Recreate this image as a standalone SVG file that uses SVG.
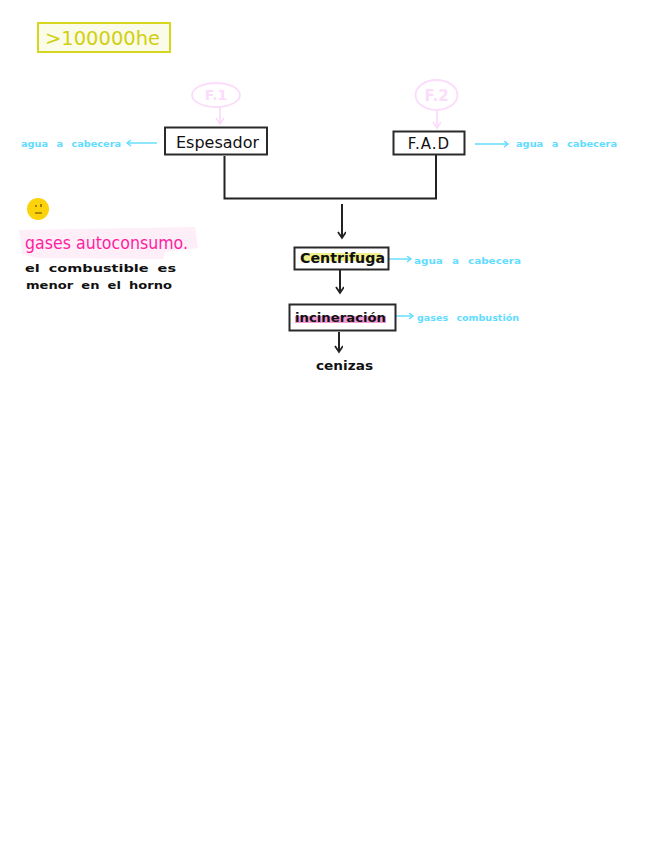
<svg xmlns="http://www.w3.org/2000/svg" width="656" height="848" viewBox="0 0 656 848">
<style>
text{font-family:"DejaVu Sans","Liberation Sans",sans-serif}
.box{fill:#fff;stroke:#2a2a2a;stroke-width:2}
.blk{fill:#111;font-size:11px;word-spacing:3px}
.cy{fill:#5fdcff;font-size:9.500px;font-weight:700;word-spacing:5px}
.con{fill:none;stroke:#222;stroke-width:2}
.bl{fill:none;stroke:#5fdcff;stroke-width:1.4}
.pk{fill:none;stroke:#fbdcfb;stroke-width:1.8}
</style>
<defs>
<marker id="ak" markerWidth="10" markerHeight="10" refX="7" refY="4" orient="auto" markerUnits="userSpaceOnUse"><path d="M1 0L7 4L1 8" fill="none" stroke="#222" stroke-width="1.8"/></marker>
<marker id="ab" markerWidth="8" markerHeight="8" refX="5" refY="3.5" orient="auto" markerUnits="userSpaceOnUse"><path d="M1 .5L5 3.500L1 6.500" fill="none" stroke="#5fdcff" stroke-width="1.4"/></marker>
<marker id="ap" markerWidth="12" markerHeight="10" refX="7" refY="4.500" orient="auto" markerUnits="userSpaceOnUse"><path d="M1 .5L7 4.500L1 8.500" fill="none" stroke="#fbdcfb" stroke-width="1.6"/></marker>
</defs>
<rect width="656" height="848" fill="#fff"/>
<g id="highlights">
<path d="M19 230L195 227L198 248L165 252L163 259L36 258L22 254Z" fill="#fdeef8"/>
</g>
<g id="connectors">
<path class="pk" d="M220 107V124" marker-end="url(#ap)"/>
<path class="pk" d="M437 111V128" marker-end="url(#ap)"/>
<path class="con" d="M224.500 156V198.500H436V155"/>
<path class="con" d="M342 204V238" marker-end="url(#ak)"/>
<path class="con" d="M340 270V293" marker-end="url(#ak)"/>
<path class="con" d="M339 332V352" marker-end="url(#ak)"/>
<path class="bl" d="M157 143H127" marker-end="url(#ab)"/>
<path class="bl" d="M475 144H508" marker-end="url(#ab)"/>
<path class="bl" d="M389 259H411" marker-end="url(#ab)"/>
<path class="bl" d="M396 316H413" marker-end="url(#ab)"/>
</g>
<g id="title">
<rect x="38" y="23" width="132" height="29" fill="#fbfbea" stroke="#d6d61e" stroke-width="2"/>
<text x="45" y="45" font-size="19" fill="#d0d010" textLength="115" lengthAdjust="spacingAndGlyphs">&gt;100000he</text>
</g>
<g id="f1">
<ellipse cx="216" cy="95" rx="24" ry="12" class="pk"/>
<text x="216" y="100" text-anchor="middle" font-size="14" font-weight="700" fill="#fbdcfb">F.1</text>
</g>
<g id="f2">
<ellipse cx="436.500" cy="95" rx="21" ry="15" class="pk"/>
<text x="436.500" y="101" text-anchor="middle" font-size="15" font-weight="700" fill="#fbdcfb">F.2</text>
</g>
<g id="espesador">
<rect x="165" y="127.500" width="102" height="27" class="box"/>
<text x="176" y="148" font-size="16" fill="#111" textLength="83" lengthAdjust="spacingAndGlyphs">Espesador</text>
</g>
<g id="fad">
<rect x="393.500" y="131.500" width="71" height="23" class="box"/>
<text x="429" y="149" text-anchor="middle" font-size="15" fill="#111" letter-spacing="1">F.A.D</text>
</g>
<g id="centrifuga">
<rect x="294.500" y="247.500" width="94" height="22" class="box"/>
<rect x="303" y="253" width="78" height="8" fill="#f0f08a"/>
<text x="300" y="263" font-size="14" font-weight="700" fill="#111" textLength="85" lengthAdjust="spacingAndGlyphs">Centrifuga</text>
</g>
<g id="incineracion">
<rect x="289.500" y="304.500" width="106" height="26" class="box"/>
<rect x="295" y="316" width="91" height="7" fill="#f39ad8"/>
<text x="295" y="322" font-size="12" font-weight="700" fill="#111" textLength="91" lengthAdjust="spacingAndGlyphs">incineración</text>
</g>
<g id="cenizas"><text x="316" y="370" font-size="13" font-weight="700" fill="#111" textLength="57" lengthAdjust="spacingAndGlyphs">cenizas</text></g>
<g id="agua-1"><text class="cy" x="21" y="147" textLength="100" lengthAdjust="spacingAndGlyphs">agua a cabecera</text></g>
<g id="agua-2"><text class="cy" x="516" y="147" textLength="101" lengthAdjust="spacingAndGlyphs">agua a cabecera</text></g>
<g id="agua-3"><text class="cy" x="414" y="264" textLength="107" lengthAdjust="spacingAndGlyphs">agua a cabecera</text></g>
<g id="gases"><text class="cy" x="417" y="321" textLength="102" lengthAdjust="spacingAndGlyphs">gases combustión</text></g>
<g id="nota">
<circle cx="38" cy="209" r="11" fill="#fcd20a"/>
<path d="M35 213H42M41 204V207M36 205V207" stroke="#5a4a00" stroke-width="1.2" fill="none"/>
<text x="25" y="249" font-size="18" fill="#ff1fa0" textLength="163" lengthAdjust="spacingAndGlyphs">gases autoconsumo.</text>
<text class="blk" x="25" y="272" font-weight="700" textLength="151" lengthAdjust="spacingAndGlyphs">el combustible es</text>
<text class="blk" x="26" y="289" font-weight="700" textLength="146" lengthAdjust="spacingAndGlyphs">menor en el horno</text>
</g>
</svg>
